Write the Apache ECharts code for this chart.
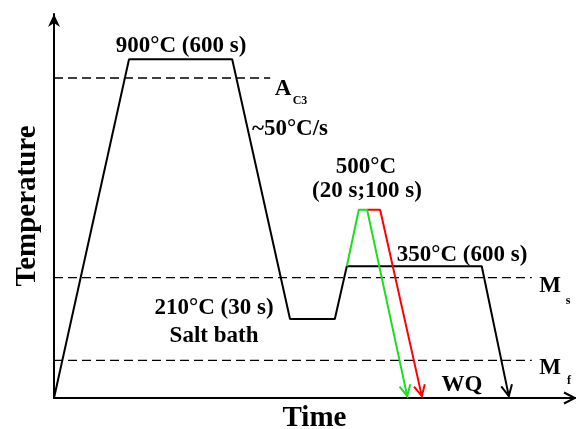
<!DOCTYPE html>
<html>
<head>
<meta charset="utf-8">
<script src="https://cdn.jsdelivr.net/npm/echarts@6/dist/echarts.min.js"></script>
<style>
html,body{margin:0;padding:0;background:#fff;}
#chart{width:576px;height:429px;}
</style>
</head>
<body>
<div id="chart"></div>
<script>
// Schematic heat-treatment route (time in arbitrary units, temperature in °C)
const mainTime  = [0, 14.4, 34.2, 45.3, 53.9, 56.2, 82.1, 87.3];
const mainTemp  = [0, 900, 900, 210, 210, 350, 350, 5];
const greenTime = [56.2, 58.5, 60.1, 67.8];
const greenTemp = [350, 500, 500, 5];
const redTime   = [60.1, 62.6, 70.6];
const redTemp   = [500, 500, 5];
const critNames = ['Ac3', 'Ms', 'Mf'];
const critTemp  = [850, 320, 100];
const critEnd   = [41.5, 91.7, 91.7];
const timeMax = 100;
const tempMax = 1020;

const FONT = 'Liberation Serif';
const zip = (a, b) => a.map((v, i) => [v, b[i]]);

const paths = [
  {t: mainTime, T: mainTemp, color: '#000000'},
  {t: redTime, T: redTemp, color: '#ff0000'},
  {t: greenTime, T: greenTemp, color: '#1fdc1f'}
];

const series = [];
// dashed critical lines
critTemp.forEach((T, i) => {
  series.push({
    type: 'line', name: critNames[i], data: [[0, T], [critEnd[i], T]],
    symbol: 'none', silent: true, animation: false,
    lineStyle: {color: '#000', width: 1.3, type: [9, 5]}
  });
});
paths.forEach(p => {
  series.push({
    type: 'line', data: zip(p.t, p.T), symbol: 'none', animation: false,
    lineStyle: {color: p.color, width: 2}
  });
});
// arrow heads: [tipT, tipTemp, prevT, prevTemp, colorIdx, kind]
const colors = paths.map(p => p.color);
const arrowData = paths.map((p, i) => {
  const n = p.t.length;
  return [p.t[n - 1], p.T[n - 1], p.t[n - 2], p.T[n - 2], i, 0];
});
arrowData.push([timeMax, 0, 0, 0, 0, 0]);      // x-axis arrow (open)
arrowData.push([0, tempMax, 0, 0, 0, 1]);      // y-axis arrow (filled)

series.push({
  type: 'custom', coordinateSystem: 'cartesian2d', animation: false, silent: true,
  clip: false,
  data: arrowData,
  encode: {x: 0, y: 1},
  renderItem: function (params, api) {
    const tip = api.coord([api.value(0), api.value(1)]);
    const prev = api.coord([api.value(2), api.value(3)]);
    let dx = tip[0] - prev[0], dy = tip[1] - prev[1];
    const L = Math.hypot(dx, dy); dx /= L; dy /= L;
    const nx = -dy, ny = dx;
    const kind = api.value(5);
    const col = colors[api.value(4)];
    if (kind === 1) {
      const len = 13, w = 6;
      return {
        type: 'polygon',
        shape: {points: [
          tip,
          [tip[0] - dx * len + nx * w, tip[1] - dy * len + ny * w],
          [tip[0] - dx * len * 0.7, tip[1] - dy * len * 0.7],
          [tip[0] - dx * len - nx * w, tip[1] - dy * len - ny * w]
        ]},
        style: {fill: '#000'}
      };
    }
    const len = 11, w = 5.5;
    return {
      type: 'polyline',
      shape: {points: [
        [tip[0] - dx * len + nx * w, tip[1] - dy * len + ny * w],
        tip,
        [tip[0] - dx * len - nx * w, tip[1] - dy * len - ny * w]
      ]},
      style: {stroke: col, lineWidth: 2, fill: null}
    };
  }
});

function txt(text, x, y, size) {
  return {
    type: 'text', silent: true,
    style: {
      text: text, x: x, y: y + 1.5, fill: '#000',
      font: 'bold ' + size + 'px "' + FONT + '"',
      textAlign: 'center', textVerticalAlign: 'middle'
    }
  };
}

const chart = echarts.init(document.getElementById('chart'), null, {renderer: 'canvas'});
chart.setOption({
  animation: false,
  backgroundColor: '#fff',
  grid: {left: 54, right: 1, top: 14, bottom: 31, outerBoundsMode: 'none', containLabel: false},
  xAxis: {
    type: 'value', min: 0, max: timeMax,
    axisLine: {lineStyle: {color: '#000', width: 2}},
    axisTick: {show: false}, axisLabel: {show: false}, splitLine: {show: false},
    name: 'Time', nameLocation: 'middle', nameGap: 6,
    nameTextStyle: {fontFamily: FONT, fontWeight: 'bold', fontSize: 29, color: '#000'}
  },
  yAxis: {
    type: 'value', min: 0, max: tempMax,
    axisLine: {show: true, lineStyle: {color: '#000', width: 2}},
    axisTick: {show: false}, axisLabel: {show: false}, splitLine: {show: false},
    name: 'Temperature', nameLocation: 'middle', nameGap: 12,
    nameTextStyle: {fontFamily: FONT, fontWeight: 'bold', fontSize: 29, color: '#000'}
  },
  series: series,
  graphic: [
    txt('900°C (600 s)', 181, 45, 23),
    txt('A', 283, 88, 23),
    txt('C3', 300, 99, 12),
    txt('~50°C/s', 290, 128, 23),
    txt('500°C', 366, 166, 23),
    txt('(20 s;100 s)', 367, 190, 23),
    txt('350°C (600 s)', 462, 254, 23),
    txt('210°C (30 s)', 214, 307, 23),
    txt('Salt bath', 214, 335, 23),
    txt('M', 550, 285, 23),
    txt('s', 568, 299, 12),
    txt('M', 550, 367, 23),
    txt('f', 569, 379, 12),
    txt('WQ', 462, 384, 23)
  ]
});
</script>
</body>
</html>
